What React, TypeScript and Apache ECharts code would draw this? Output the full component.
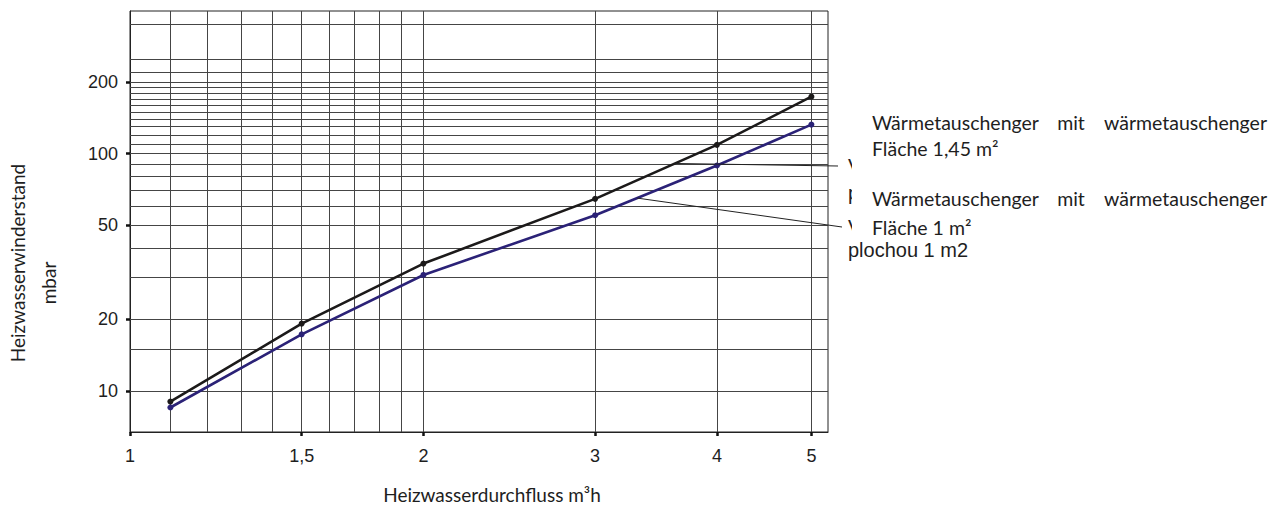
import React, { useEffect, useRef } from "react";
import * as echarts from "echarts";

// ---- data ----
const flowTicks = [1, 1.5, 2, 3, 4, 5];
const resistanceTicks = [10, 20, 50, 100, 200];
const flowGrid = [1.1, 1.2, 1.3, 1.4, 1.5, 1.6, 1.7, 1.8, 1.9, 2, 3, 4, 5];
const resistanceGrid = [
  10, 15, 20, 30, 40, 50, 60, 70, 80, 90, 100, 110, 120, 130, 140, 150, 160,
  170, 180, 190, 200, 220, 250, 350,
];
const flow = [1.1, 1.5, 2, 3, 4, 5];
const area145 = [9.0, 19.2, 34.4, 64.5, 109, 174];
const area100 = [8.5, 17.3, 30.8, 55.0, 89.2, 132.7];

const labelA = ["Wärmetauschenger", "mit", "wärmetauschenger"];
const labelA2 = "Fläche 1,45 m²";
const labelB2 = "Fläche 1 m²";
// fragments of the covered original labels that peek out
const czechFragments = ["V", "p", "V"];
const czechLast = "plochou 1 m2";
const xTitle = "Heizwasserdurchfluss m³h";
const yTitle = ["Heizwasserwinderstand", "mbar"];

const BLACK = "#1c1a1a";
const BLUE = "#2b2277";
const TEXT = "#1e1e1e";
const GRID = "#454545";
const SANS = "Lato";
const ARIAL = "Liberation Sans";

export default function App() {
  const ref = useRef<HTMLDivElement>(null);

  useEffect(() => {
    const chart = echarts.init(ref.current!, null, { renderer: "svg" });
    const option: any = {
      animation: false,
      backgroundColor: "#ffffff",
      grid: {
        left: 130,
        right: 450,
        top: 11,
        bottom: 74,
        show: true,
        borderColor: "#222",
        borderWidth: 1,
        outerBoundsMode: "none",
      },
      xAxis: {
        type: "log",
        logBase: 10,
        min: 1,
        max: 5.2,
        axisLine: { show: true, lineStyle: { color: "#222", width: 1 } },
        axisTick: {
          show: true,
          customValues: flowTicks,
          length: 4,
          lineStyle: { color: "#111", width: 2.5 },
        },
        axisLabel: {
          customValues: flowTicks,
          formatter: (v: number) => String(v).replace(".", ","),
          fontFamily: ARIAL,
          fontSize: 18,
          color: TEXT,
          margin: 15,
        },
        splitLine: { show: false },
        minorTick: { show: false },
        minorSplitLine: { show: false },
      },
      yAxis: {
        type: "log",
        logBase: 10,
        min: 6.7,
        max: 400,
        axisLine: { show: true, lineStyle: { color: "#222", width: 1 } },
        axisTick: {
          show: true,
          customValues: resistanceTicks,
          length: 4,
          lineStyle: { color: "#111", width: 2.5 },
        },
        axisLabel: {
          customValues: resistanceTicks,
          fontFamily: ARIAL,
          fontSize: 18,
          color: TEXT,
          margin: 12,
        },
        splitLine: { show: false },
        minorTick: { show: false },
        minorSplitLine: { show: false },
      },
      series: [
        {
          type: "line",
          data: [],
          silent: true,
          z: 1,
          markLine: {
            silent: true,
            symbol: ["none", "none"],
            label: { show: false },
            emphasis: { disabled: true },
            lineStyle: { color: GRID, width: 1, type: "solid" },
            data: [
              ...flowGrid.map((v) => ({ xAxis: v })),
              ...resistanceGrid.map((v) => ({ yAxis: v })),
            ],
          },
        },
        {
          name: "1,45",
          type: "line",
          z: 5,
          data: flow.map((x, i) => [x, area145[i]]),
          symbol: "circle",
          symbolSize: 6,
          lineStyle: { color: BLACK, width: 2.6 },
          itemStyle: { color: BLACK },
        },
        {
          name: "1",
          type: "line",
          z: 5,
          data: flow.map((x, i) => [x, area100[i]]),
          symbol: "circle",
          symbolSize: 6,
          lineStyle: { color: BLUE, width: 2.6 },
          itemStyle: { color: BLUE },
        },
      ],
    };
    chart.setOption(option);

    const px = (x: number, y: number) =>
      chart.convertToPixel({ gridIndex: 0 }, [x, y]) as number[];
    const along = (xs: number[], ys: number[], i: number, t: number) => {
      const a = px(xs[i], ys[i]);
      const b = px(xs[i + 1], ys[i + 1]);
      return [a[0] + (b[0] - a[0]) * t, a[1] + (b[1] - a[1]) * t];
    };
    const anchorA = along(flow, area145, 3, 0.655);
    const anchorB = along(flow, area100, 3, 0.345);

    const germanFont = { fontFamily: SANS, fontSize: 19.5, fill: TEXT };
    const wordsRow = (y: number) => [
      { type: "text", x: 872, y, z: 30, style: { ...germanFont, text: labelA[0], align: "left", verticalAlign: "middle" } },
      { type: "text", x: 1071, y, z: 30, style: { ...germanFont, text: labelA[1], align: "center", verticalAlign: "middle" } },
      { type: "text", x: 1267, y, z: 30, style: { ...germanFont, text: labelA[2], align: "right", verticalAlign: "middle" } },
    ];
    const plain = (txt: string, x: number, y: number) => ({
      type: "text",
      x,
      y,
      z: 30,
      style: { ...germanFont, text: txt, align: "left", verticalAlign: "middle" },
    });

    chart.setOption({
      graphic: [
        // leader lines
        { type: "line", z: 20, shape: { x1: anchorA[0], y1: anchorA[1], x2: 838, y2: 166 }, style: { stroke: "#222", lineWidth: 1 } },
        { type: "line", z: 20, shape: { x1: anchorB[0], y1: anchorB[1], x2: 842, y2: 227 }, style: { stroke: "#222", lineWidth: 1 } },
        // peeking fragments of the covered labels
        ...czechFragments.map((t, i) => ({
          type: "text",
          x: 848,
          y: [166, 193, 227][i],
          z: 20,
          style: { text: t, fontFamily: ARIAL, fontSize: 20, fill: TEXT, align: "left", verticalAlign: "middle" },
        })),
        { type: "rect", z: 25, shape: { x: 852, y: 104, width: 430, height: 133 }, style: { fill: "#ffffff" } },
        {
          type: "text",
          x: 848,
          y: 250,
          z: 30,
          style: { text: czechLast, fontFamily: ARIAL, fontSize: 20, fill: TEXT, align: "left", verticalAlign: "middle" },
        },
        ...wordsRow(122),
        plain(labelA2, 872, 148),
        ...wordsRow(198),
        plain(labelB2, 872, 227),
        // axis titles
        {
          type: "text",
          x: 492,
          y: 494,
          z: 30,
          style: { text: xTitle, ...germanFont, fontSize: 19, align: "center", verticalAlign: "middle" },
        },
        {
          type: "text",
          x: 17.5,
          y: 263,
          rotation: Math.PI / 2,
          z: 30,
          style: { text: yTitle[0], ...germanFont, fontSize: 19, align: "center", verticalAlign: "middle" },
        },
        {
          type: "text",
          x: 48.5,
          y: 283,
          rotation: Math.PI / 2,
          z: 30,
          style: { text: yTitle[1], ...germanFont, fontSize: 19, align: "center", verticalAlign: "middle" },
        },
      ],
    });

    return () => chart.dispose();
  }, []);

  return (
    <div
      ref={ref}
      style={{ position: "fixed", left: 0, top: 0, width: 1278, height: 506, background: "#fff" }}
    />
  );
}
